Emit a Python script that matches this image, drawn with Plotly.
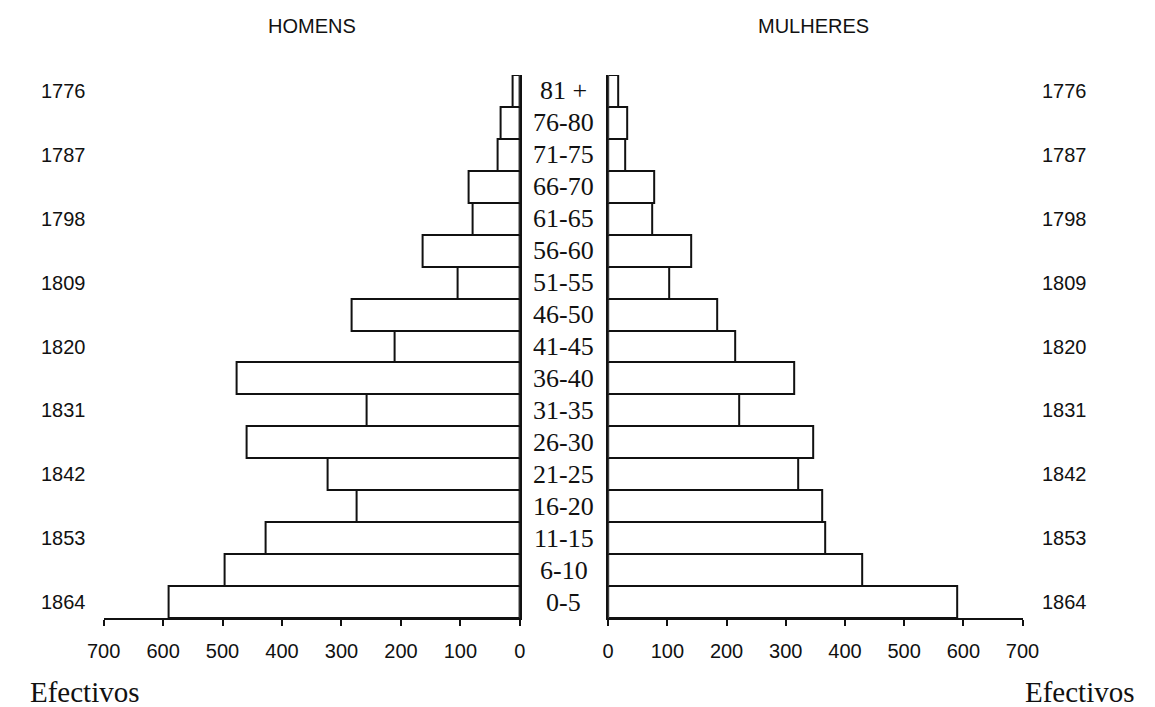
import plotly.graph_objects as go

# The page body keeps the browser's default 8px margin, so the figure is sized
# to the window minus that margin and all reference positions are shifted by it.
OFF = 8
W, H = 1155 - OFF, 707 - OFF

ages = ["0-5", "6-10", "11-15", "16-20", "21-25", "26-30", "31-35", "36-40", "41-45",
        "46-50", "51-55", "56-60", "61-65", "66-70", "71-75", "76-80", "81 +"]
homens = [591, 497, 428, 275, 324, 460, 258, 477, 210, 283, 105, 164, 79, 86, 38, 33, 12]
mulheres = [590, 429, 367, 362, 321, 347, 221, 314, 215, 184, 103, 141, 75, 77, 28, 32, 17]
years = ["1864", "1853", "1842", "1831", "1820", "1809", "1798", "1787", "1776"]
x_ticks = [0, 100, 200, 300, 400, 500, 600, 700]

INK = "#111111"
SANS = "Liberation Sans, Arial, sans-serif"
SERIF = "Liberation Serif, Times New Roman, serif"


def px(x):
    return (x - OFF) / W


def py(y):
    return (H - (y - OFF)) / H


ydom = [py(618), py(75)]

fig = go.Figure()
fig.add_trace(go.Bar(y=ages, x=homens, orientation="h", xaxis="x", yaxis="y",
                     marker=dict(color="white", line=dict(color=INK, width=2)),
                     showlegend=False, hoverinfo="x+y"))
fig.add_trace(go.Bar(y=ages, x=mulheres, orientation="h", xaxis="x2", yaxis="y2",
                     marker=dict(color="white", line=dict(color=INK, width=2)),
                     showlegend=False, hoverinfo="x+y"))

xcommon = dict(tickvals=x_ticks, showline=True, linewidth=2, linecolor=INK,
               ticks="outside", ticklen=6, tickwidth=2, tickcolor=INK,
               showgrid=False, zeroline=False, ticklabelstandoff=8,
               tickfont=dict(family=SANS, size=20, color=INK))
ycommon = dict(type="category", categoryorder="array", categoryarray=ages,
               range=[-0.5, len(ages) - 0.5], showline=True, linewidth=2,
               linecolor=INK, showticklabels=False, showgrid=False, zeroline=False,
               ticks="")

fig.update_layout(
    width=W, height=H,
    margin=dict(l=0, r=0, t=0, b=0),
    paper_bgcolor="white", plot_bgcolor="white",
    bargap=0,
    xaxis=dict(domain=[px(89), px(518)], range=[700, 0], anchor="y", **xcommon),
    yaxis=dict(domain=ydom, anchor="x", side="right", **ycommon),
    xaxis2=dict(domain=[px(609), px(1036)], range=[0, 700], anchor="y2", **xcommon),
    yaxis2=dict(domain=ydom, anchor="x2", side="left", **ycommon),
    xaxis3=dict(domain=[px(609), px(1036)], range=[0, 700], anchor="y2", overlaying="x2",
                tickvals=x_ticks, ticks="inside", ticklen=6, tickwidth=2, tickcolor=INK,
                showticklabels=False, showgrid=False, zeroline=False, showline=False),
)

ann = []
# panel titles
ann.append(dict(text="HOMENS", x=px(303.5), y=py(26), xref="paper", yref="paper",
                showarrow=False, xanchor="center", yanchor="middle",
                font=dict(family=SANS, size=20, color=INK)))
ann.append(dict(text="MULHERES", x=px(821), y=py(26), xref="paper", yref="paper",
                showarrow=False, xanchor="center", yanchor="middle",
                font=dict(family=SANS, size=20, color=INK)))
# age group labels in the middle
for a in ages:
    ann.append(dict(text=a, x=px(563), y=a, xref="paper", yref="y", showarrow=False,
                    xanchor="center", yanchor="middle",
                    font=dict(family=SERIF, size=26, color=INK)))
# year labels on both sides (every other age row)
for yr, a in zip(years, ages[::2]):
    for xc in (47.5, 1079):
        ann.append(dict(text=yr, x=px(xc), y=a, xref="paper", yref="y", showarrow=False,
                        xanchor="center", yanchor="middle",
                        font=dict(family=SANS, size=20, color=INK)))
# Efectivos
ann.append(dict(text="Efectivos", x=px(11), y=py(692), xref="paper", yref="paper",
                showarrow=False, xanchor="left", yanchor="middle",
                font=dict(family=SERIF, size=29, color=INK)))
ann.append(dict(text="Efectivos", x=px(1154), y=py(692), xref="paper", yref="paper",
                showarrow=False, xanchor="right", yanchor="middle",
                font=dict(family=SERIF, size=29, color=INK)))
fig.update_layout(annotations=ann)

fig.write_html("out.html")
